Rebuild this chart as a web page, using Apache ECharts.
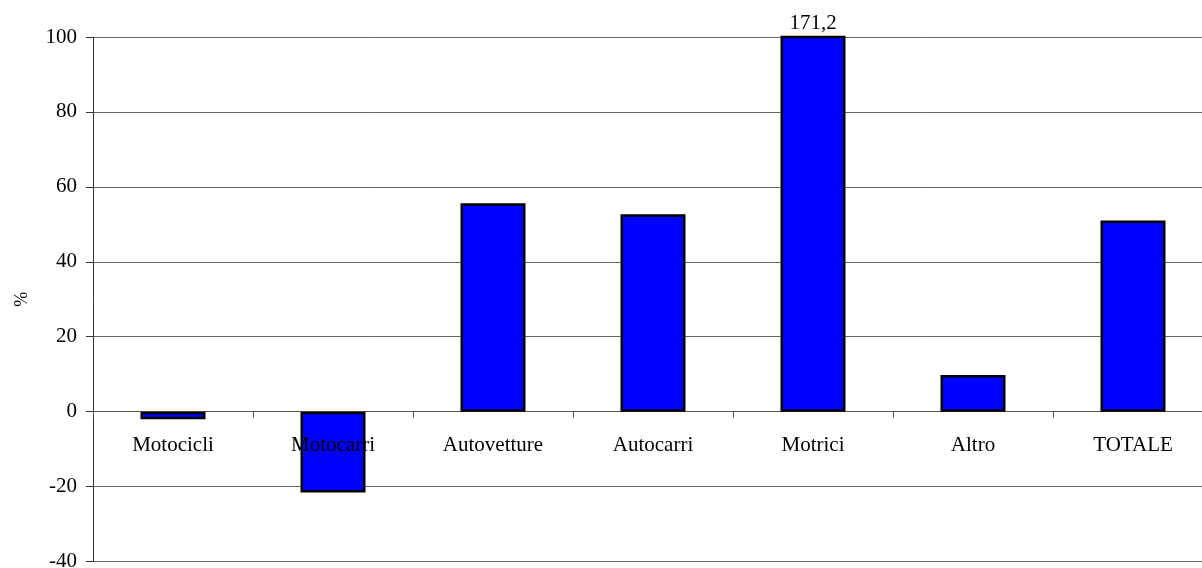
<!DOCTYPE html>
<html>
<head>
<meta charset="utf-8">
<style>
  html, body { margin: 0; padding: 0; background: #fff; }
  #chart { width: 1202px; height: 568px; }
</style>
<script src="https://cdn.jsdelivr.net/npm/echarts@6/dist/echarts.min.js"></script>
</head>
<body>
<div id="chart"></div>
<script>
// Variazione percentuale per tipo di veicolo
const categories = ['Motocicli', 'Motocarri', 'Autovetture', 'Autocarri', 'Motrici', 'Altro', 'TOTALE'];
const values = [-2.0, -21.6, 55.6, 52.7, 171.2, 9.8, 51.0];
const yTicks = { min: -40, max: 100, interval: 20 };

const font = '"Liberation Serif", "Times New Roman", serif';
const fontSize = 21;
const chart = echarts.init(document.getElementById('chart'), null, { renderer: 'canvas' });

// plot area geometry; the second grid ends on the zero line so the
// category names sit just under it, drawn above the bars
const plot = { left: 93, top: 37, bottom: 6.5, right: -11 };
const plotHeight = 568 - plot.top - plot.bottom;
const zeroFromTop = plotHeight * (yTicks.max - 0) / (yTicks.max - yTicks.min);

chart.setOption({
  animation: false,
  backgroundColor: '#ffffff',
  grid: [
    { left: plot.left, top: plot.top, bottom: plot.bottom, right: plot.right, containLabel: false, outerBoundsMode: 'none' },
    { left: plot.left, top: plot.top, height: zeroFromTop, right: plot.right, containLabel: false, outerBoundsMode: 'none' }
  ],
  xAxis: [
    {
      type: 'category',
      gridIndex: 0,
      data: categories,
      axisLine: { onZero: true, lineStyle: { color: '#555', width: 1 } },
      axisTick: { show: true, length: 6, lineStyle: { color: '#555' } },
      axisLabel: { show: false },
      splitLine: { show: false }
    },
    {
      type: 'category',
      gridIndex: 1,
      data: categories,
      position: 'bottom',
      z: 10,
      axisLine: { show: false },
      axisTick: { show: false },
      axisLabel: { color: '#000', fontFamily: font, fontSize: fontSize, margin: 23 },
      splitLine: { show: false }
    }
  ],
  yAxis: [
    {
      type: 'value',
      gridIndex: 0,
      min: yTicks.min,
      max: yTicks.max,
      interval: yTicks.interval,
      name: '%',
      nameLocation: 'middle',
      nameRotate: 90,
      nameGap: 62,
      nameTextStyle: { color: '#000', fontFamily: font, fontSize: 18 },
      axisLine: { show: true, lineStyle: { color: '#333', width: 1 } },
      axisTick: { show: true, inside: false, length: 7, lineStyle: { color: '#333' } },
      axisLabel: { color: '#000', fontFamily: font, fontSize: fontSize, margin: 16 },
      splitLine: { show: true, lineStyle: { color: '#666', width: 1 } }
    },
    {
      type: 'value',
      gridIndex: 1,
      show: false
    }
  ],
  series: [{
    type: 'bar',
    xAxisIndex: 0,
    yAxisIndex: 0,
    data: values,
    barWidth: 65,
    clip: true,
    itemStyle: { color: '#0000ff', borderColor: '#000', borderWidth: 2.5 },
    label: {
      show: true,
      position: 'top',
      distance: 2,
      color: '#000',
      fontFamily: font,
      fontSize: fontSize,
      formatter: p => (p.value > yTicks.max ? String(p.value).replace('.', ',') : '')
    }
  }]
});
</script>
</body>
</html>
